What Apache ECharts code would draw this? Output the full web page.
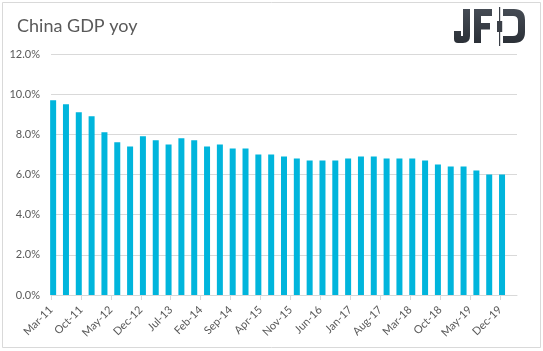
<!DOCTYPE html>
<html>
<head>
<meta charset="utf-8">
<script src="https://cdn.jsdelivr.net/npm/echarts@6/dist/echarts.min.js"></script>
<style>
  html, body { margin: 0; padding: 0; background: #fff; }
  #chart { width: 543px; height: 351px; }
</style>
</head>
<body>
<div id="chart"></div>
<script>
// quarterly China GDP, year on year %
const quarters = [
  "Mar-11", "Jun-11", "Sep-11", "Dec-11", "Mar-12", "Jun-12", "Sep-12", "Dec-12",
  "Mar-13", "Jun-13", "Sep-13", "Dec-13", "Mar-14", "Jun-14", "Sep-14", "Dec-14",
  "Mar-15", "Jun-15", "Sep-15", "Dec-15", "Mar-16", "Jun-16", "Sep-16", "Dec-16",
  "Mar-17", "Jun-17", "Sep-17", "Dec-17", "Mar-18", "Jun-18", "Sep-18", "Dec-18",
  "Mar-19", "Jun-19", "Sep-19", "Dec-19",
];
const gdpYoy = [
  9.7, 9.5, 9.1, 8.9, 8.1, 7.6, 7.4, 7.9,
  7.7, 7.5, 7.8, 7.7, 7.4, 7.5, 7.3, 7.3,
  7.0, 7.0, 6.9, 6.8, 6.7, 6.7, 6.7, 6.8,
  6.9, 6.9, 6.8, 6.8, 6.8, 6.7, 6.5, 6.4,
  6.4, 6.2, 6.0, 6.0,
];
const tickLabels = [
  "Mar-11", "Oct-11", "May-12", "Dec-12", "Jul-13", "Feb-14", "Sep-14", "Apr-15",
  "Nov-15", "Jun-16", "Jan-17", "Aug-17", "Mar-18", "Oct-18", "May-19", "Dec-19",
];

const MONTHS = ["Jan", "Feb", "Mar", "Apr", "May", "Jun", "Jul", "Aug", "Sep", "Oct", "Nov", "Dec"];

// months since Mar-11 (the date axis is in months)
function monthIndex(label) {
  const [mon, yy] = label.split("-");
  return (parseInt(yy, 10) - 11) * 12 + MONTHS.indexOf(mon) - 2;
}

const tickMonths = tickLabels.map(monthIndex);
const labelByMonth = {};
tickLabels.forEach((l, i) => { labelByMonth[tickMonths[i]] = l; });

const barData = quarters.map((q, i) => [monthIndex(q) + 0.5, gdpYoy[i]]);

// logo letters as path shapes
echarts.graphic.registerShape("logoJ", echarts.graphic.extendPath(
  "M463 9 H470 V36 Q470 43 463 43 H458 Q454 43 454 39 V31 H461 V36 H463 Z"));
echarts.graphic.registerShape("logoF", echarts.graphic.extendPath(
  "M474 9 H492 V16 H481 V23 H490 V29.5 H481 V43 H474 Z"));
echarts.graphic.registerShape("logoD", echarts.graphic.extendPath(
  "M503 9 H514 Q525 9 525 20 V32 Q525 43 514 43 H503 V36 H513 Q518 36 518 31 V21 Q518 16 513 16 H503 Z"));

const textColor = "#595959";
const lineColor = "#d9d9d9";
const logoFill = {
  type: "linear", x: 0, y: 0, x2: 0, y2: 1,
  colorStops: [{ offset: 0, color: "#454b54" }, { offset: 1, color: "#2b3037" }],
};

const options = {
  animation: false,
  backgroundColor: "#fff",
  textStyle: { fontFamily: "Lato" },
  grid: { left: 51, right: 26, top: 54, bottom: 56, containLabel: false },
  graphic: [
    {
      type: "rect",
      shape: { x: 2.5, y: 2.5, width: 538, height: 345 },
      style: { fill: "none", stroke: lineColor, lineWidth: 1 },
    },
    {
      type: "text",
      left: 17, top: 17,
      style: { text: "China GDP yoy", fill: textColor, font: "18px Lato" },
    },
    // JFD logo
    { type: "logoJ", style: { fill: logoFill } },
    { type: "logoF", style: { fill: logoFill } },
    {
      type: "rect",
      shape: { x: 499, y: 7, width: 1.2, height: 39 },
      style: { fill: "#3a3f47" },
    },
    {
      type: "rect",
      shape: { x: 497, y: 21, width: 5.2, height: 11 },
      style: { fill: "#3a3f47" },
    },
    { type: "logoD", style: { fill: logoFill } },
  ],
  xAxis: {
    type: "value",
    min: 0,
    max: 109,
    splitLine: { show: false },
    axisLine: { show: true, lineStyle: { color: lineColor, width: 1 } },
    axisTick: {
      show: true,
      length: 5,
      customValues: tickMonths,
      lineStyle: { color: lineColor },
    },
    axisLabel: {
      customValues: tickMonths,
      rotate: 45,
      margin: 13,
      color: textColor,
      fontSize: 11,
      fontFamily: "Lato",
      formatter: (v) => labelByMonth[v] || "",
    },
  },
  yAxis: {
    type: "value",
    min: 0,
    max: 12,
    interval: 2,
    axisLine: { show: false },
    axisTick: { show: false },
    splitLine: { lineStyle: { color: lineColor, width: 1 } },
    axisLabel: {
      color: textColor,
      fontSize: 11,
      fontFamily: "Lato",
      margin: 11,
      formatter: (v) => v.toFixed(1) + "%",
    },
  },
  series: [
    {
      name: "China GDP yoy",
      type: "bar",
      barWidth: 6,
      itemStyle: { color: "#00b5dc" },
      data: barData,
    },
  ],
};

const chart = echarts.init(document.querySelector("#chart"));
chart.setOption(options);
</script>
</body>
</html>
